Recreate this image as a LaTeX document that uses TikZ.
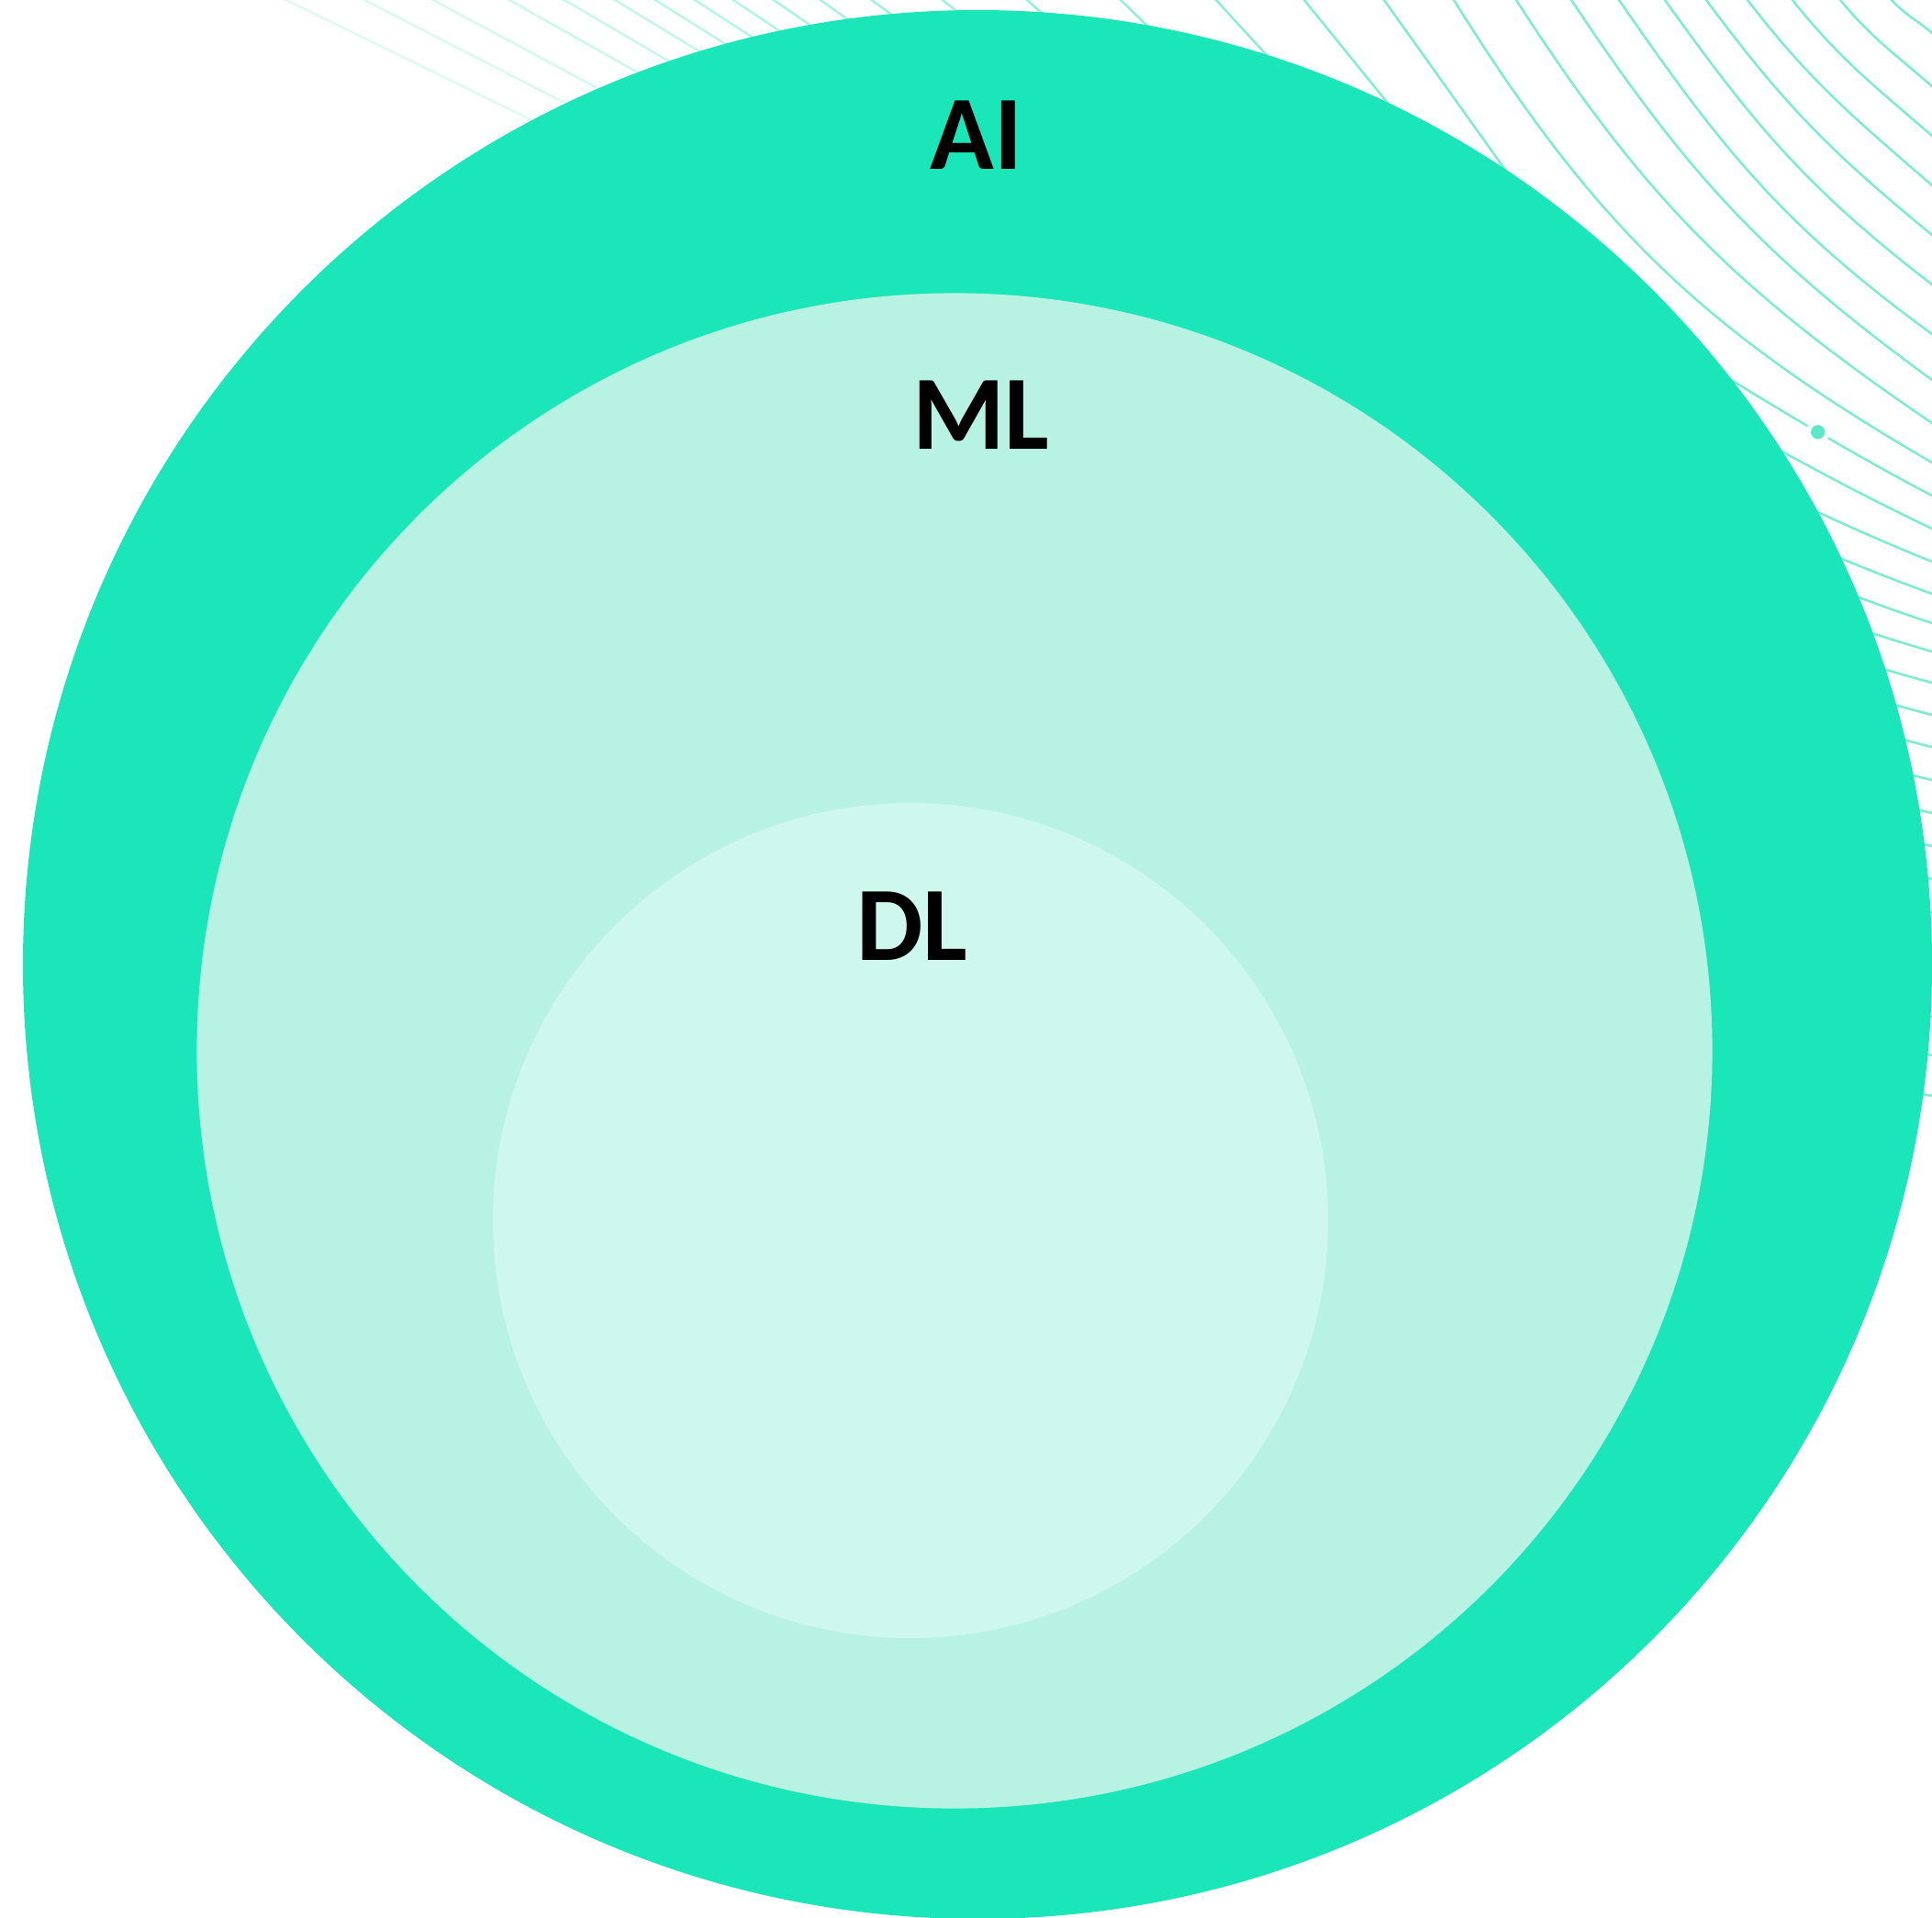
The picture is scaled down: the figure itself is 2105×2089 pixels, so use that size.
\documentclass[tikz,border=0pt]{standalone}
\usepackage{fontspec}
\setmainfont{Carlito}
\definecolor{aicol}{HTML}{1BE6B9}
\definecolor{mlcol}{HTML}{B8F2E2}
\definecolor{dlcol}{HTML}{CEF8EE}
\definecolor{linecol}{HTML}{80ECCF}
\definecolor{dotcol}{HTML}{5CE9C9}
\tikzset{
  bgline/.style={line width=1.3pt},
  lbl/.style={inner sep=0pt, font=\fontsize{57.5}{60}\selectfont\bfseries, text=black},
}
\begin{document}
\begin{tikzpicture}[x=0.5pt,y=-0.5pt]
\useasboundingbox (0,0) rectangle (2105,2089);
\clip (0,0) rectangle (2105,2089);
% lines passing under the AI circle from the top edge
\foreach \a [count=\j from 0] in {312,397,472,555,615,670,714,757,799,843,894,950,1027,1119,1221,1325,1421,1508} {
  \pgfmathtruncatemacro\pct{25+4.4*\j}
  \pgfmathsetmacro\dx{2150-\a}
  \draw[bgline, draw=linecol!\pct!white] (\a-0.04*\dx,-36) -- (\a+0.65*\dx,585);
}
% curved lines in the top right corner
\foreach \a/\b/\sa/\sb in {1584/504/1.6/0.58, 1652/461/1.55/0.68, 1712/414/1.5/0.73, 1764/364/1.45/0.73, 1814/310/1.4/0.77, 1859/256/1.35/0.82, 1904/202/1.3/0.87, 1953/148/1.25/0.87, 2005/94/1.2/0.87, 2061/36/1.1/0.87} {
  \pgfmathsetmacro\L{0.4*veclen(2105-\a,\b)}
  \pgfmathsetmacro\ta{atan(\sa)}
  \pgfmathsetmacro\tb{atan(\sb)}
  \pgfmathsetmacro\tc{\ta+180}
  \pgfmathsetmacro\td{\tb+180}
  \draw[bgline, draw=linecol] (\a,0) ++(\tc:40) -- (\a,0) .. controls +(\ta:\L) and +(\td:\L) .. (2105,\b) -- +(\tb:40);
}
% lines leaving the AI circle on the right
\foreach \b/\s in {576/0.47, 612/0.40, 647/0.36, 679/0.33, 710/0.29, 744/0.27, 779/0.26, 814/0.25, 850/0.24, 886/0.24, 922/0.23, 958/0.22, 994/0.21, 1030/0.20, 1068/0.19, 1108/0.18, 1150/0.17, 1194/0.16} {
  \pgfmathsetmacro\si{\s+0.2}
  \pgfmathsetmacro\yo{\b-455*(\s+\si)/2}
  \pgfmathsetmacro\ta{atan(\si)}
  \pgfmathsetmacro\tb{atan(\s)}
  \pgfmathsetmacro\td{\tb+180}
  \draw[bgline, draw=linecol] (1650,\yo) .. controls +(\ta:150) and +(\td:150) .. (2105,\b) -- +(\tb:40);
}
% the line carrying the dot
\pgfmathsetmacro\ta{atan(0.72)}
\pgfmathsetmacro\tb{atan(0.52)}
\pgfmathsetmacro\td{\tb+180}
\draw[bgline, draw=linecol] (1650,258) .. controls +(\ta:150) and +(\td:150) .. (2105,540) coordinate[pos=0.72] (dotpt) -- +(\tb:40);
\fill[white] (dotpt) circle[radius=6.5pt];
\fill[dotcol] (dotpt) circle[radius=3.8pt];
% the three sets
\fill[aicol] (1065,1051) circle[radius=520pt];
\fill[mlcol] (1040,1145) circle[radius=412.8pt];
\fill[dlcol] (992,1330) circle[radius=227.5pt];
\node[lbl] (ai) at (1063.5,147) {AI};
\node[lbl] (ml) at (1068.7,452.5) {ML};
\node[lbl] (dl) at (994,1009) {DL};
\end{tikzpicture}
\end{document}
